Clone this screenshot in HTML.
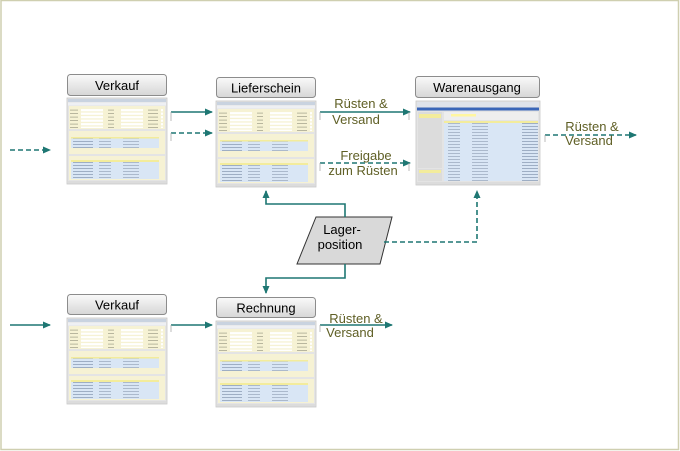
<!DOCTYPE html>
<html><head><meta charset="utf-8"><style>
html,body{margin:0;padding:0;background:#fff;}
svg{display:block;font-family:"Liberation Sans",sans-serif;}
</style></head><body>
<svg width="680" height="451" viewBox="0 0 680 451" xmlns="http://www.w3.org/2000/svg">
<defs>
<linearGradient id="lb" x1="0" y1="0" x2="0" y2="1">
<stop offset="0" stop-color="#fafafa"/><stop offset="1" stop-color="#d6d6d6"/></linearGradient>
<marker id="ah" markerWidth="8" markerHeight="8" refX="7" refY="4" orient="auto" markerUnits="userSpaceOnUse">
<path d="M0,0.5 L8,4 L0,7.5 z" fill="#1e7773"/></marker>
<pattern id="rows" width="100" height="3" patternUnits="userSpaceOnUse">
<rect x="0" y="0" width="100" height="3" fill="#d9e6f5"/>
<rect x="6" y="1" width="20" height="0.8" fill="#8fa0b8"/>
<rect x="32" y="1" width="12" height="0.8" fill="#a0aec2"/>
<rect x="56" y="1" width="16" height="0.8" fill="#a0aec2"/>
</pattern>
<pattern id="fld" width="40" height="3.5" patternUnits="userSpaceOnUse">
<rect x="0" y="0" width="40" height="3.5" fill="#f6f2d4"/>
<rect x="1" y="1.2" width="10" height="0.8" fill="#a8a890"/>
<rect x="14" y="0.6" width="22" height="2.2" fill="#fff"/>
</pattern>
<g id="shot">
<rect x="0" y="0" width="100" height="86" fill="#e4e4e4" stroke="#c8c8c8" stroke-width="0.8"/>
<rect x="1" y="1" width="98" height="3" fill="#c9d3e0"/>
<rect x="1" y="4.5" width="98" height="3" fill="#eef0f4"/>
<rect x="2" y="8" width="96" height="23" fill="#f6f2d4"/>
<rect x="3" y="10" width="44" height="20" fill="url(#fld)"/>
<rect x="52" y="10" width="44" height="20" fill="url(#fld)"/>
<rect x="2" y="33" width="96" height="23" fill="#f6f2d4"/>
<rect x="4" y="40" width="88" height="10" fill="url(#rows)"/>
<rect x="4" y="39" width="88" height="1.5" fill="#f3ec9c"/>
<rect x="2" y="58" width="96" height="24" fill="#f6f2d4"/>
<rect x="4" y="63" width="88" height="18" fill="url(#rows)"/>
<rect x="4" y="62" width="88" height="2" fill="#f3ec9c"/>
<rect x="1" y="83" width="98" height="2.5" fill="#dcdcdc"/>
</g>
<g id="shot2">
<rect x="0" y="0" width="124" height="84" fill="#e4e4e4" stroke="#c8c8c8" stroke-width="0.8"/>
<rect x="1" y="1" width="122" height="5" fill="#dfe3ea"/>
<rect x="1" y="6.5" width="122" height="3" fill="#3a66b8"/>
<rect x="2" y="11" width="24" height="56" fill="#dcdcdc"/>
<rect x="3" y="13" width="22" height="4" fill="#f3ec9c"/>
<rect x="2" y="68" width="24" height="12" fill="#dcdcdc"/>
<rect x="3" y="69" width="22" height="3" fill="#f3ec9c"/>
<rect x="28" y="11" width="94" height="8" fill="#eeeeee"/>
<rect x="35" y="13" width="25" height="2.5" fill="#fff6a0"/>
<rect x="28" y="20" width="94" height="60" fill="url(#rows)"/>
<rect x="28" y="20" width="94" height="2" fill="#f3ec9c"/>
<rect x="1" y="81" width="122" height="2.5" fill="#dcdcdc"/>
</g>
</defs>
<rect x="1" y="0.5" width="677.5" height="449" fill="none" stroke="#cfcfb0" stroke-width="1.5"/>

<g font-size="13" text-anchor="middle" fill="#000">
<rect x="67.5" y="74.5" width="99" height="21" rx="3" fill="url(#lb)" stroke="#8c8c8c"/>
<text x="117" y="90">Verkauf</text>
<rect x="216.5" y="77.5" width="99" height="20" rx="3" fill="url(#lb)" stroke="#8c8c8c"/>
<text x="266" y="92.5">Lieferschein</text>
<rect x="415.5" y="76.5" width="124" height="21" rx="3" fill="url(#lb)" stroke="#8c8c8c"/>
<text x="477" y="92">Warenausgang</text>
<rect x="67.5" y="294.5" width="99" height="20" rx="3" fill="url(#lb)" stroke="#8c8c8c"/>
<text x="117" y="309.5">Verkauf</text>
<rect x="216.5" y="297.5" width="99" height="20" rx="3" fill="url(#lb)" stroke="#8c8c8c"/>
<text x="266" y="312.5">Rechnung</text>
</g>

<use href="#shot" x="67" y="98"/>
<use href="#shot" x="216" y="101"/>
<use href="#shot2" x="416" y="101"/>
<use href="#shot" x="67" y="318"/>
<use href="#shot" x="216" y="321"/>

<polygon points="316,217 392,217 380,264 297,264" fill="#d9d9d9" stroke="#333" stroke-width="1"/>
<g font-size="13" text-anchor="middle" fill="#000">
<text x="342" y="234">Lager-</text>
<text x="340" y="249">position</text>
</g>

<g stroke="#1e7773" stroke-width="1.6" fill="none">
<line x1="10" y1="150" x2="50" y2="150" stroke-dasharray="5,3" marker-end="url(#ah)"/>
<line x1="171" y1="112" x2="212" y2="112" marker-end="url(#ah)"/>
<line x1="171" y1="133" x2="212" y2="133" stroke-dasharray="5,3" marker-end="url(#ah)"/>
<line x1="320" y1="112" x2="410" y2="112" marker-end="url(#ah)"/>
<line x1="320" y1="163" x2="410" y2="163" stroke-dasharray="5,3" marker-end="url(#ah)"/>
<line x1="545" y1="135" x2="636" y2="135" stroke-dasharray="5,3" marker-end="url(#ah)"/>
<polyline points="345,217 345,204 266,204 266,191" marker-end="url(#ah)"/>
<polyline points="384,242 477,242 477,191" stroke-dasharray="5,3" marker-end="url(#ah)"/>
<polyline points="345,264 345,278 266,278 266,293" marker-end="url(#ah)"/>
<line x1="10" y1="325" x2="50" y2="325" marker-end="url(#ah)"/>
<line x1="171" y1="325" x2="212" y2="325" marker-end="url(#ah)"/>
<line x1="320" y1="325" x2="392" y2="325" marker-end="url(#ah)"/>
</g>
<g stroke="#aaaaaa" stroke-width="0.8">
<line x1="171" y1="112" x2="171" y2="121"/><line x1="171" y1="133" x2="171" y2="141"/>
<line x1="320" y1="112" x2="320" y2="120"/><line x1="409" y1="112" x2="409" y2="120"/>
<line x1="320" y1="163" x2="320" y2="171"/><line x1="409" y1="163" x2="409" y2="171"/>
<line x1="545" y1="135" x2="545" y2="142"/>
<line x1="171" y1="325" x2="171" y2="332"/><line x1="320" y1="325" x2="320" y2="332"/>
</g>

<g font-size="13" fill="#5f5f25" text-anchor="middle">
<text x="361" y="108">Rüsten &amp;</text>
<text x="356" y="124">Versand</text>
<text x="366" y="160">Freigabe</text>
<text x="363" y="175">zum  Rüsten</text>
<text x="592" y="131">Rüsten &amp;</text>
<text x="589" y="145">Versand</text>
<text x="356" y="323">Rüsten &amp;</text>
<text x="350" y="337">Versand</text>
</g>
</svg>
</body></html>
